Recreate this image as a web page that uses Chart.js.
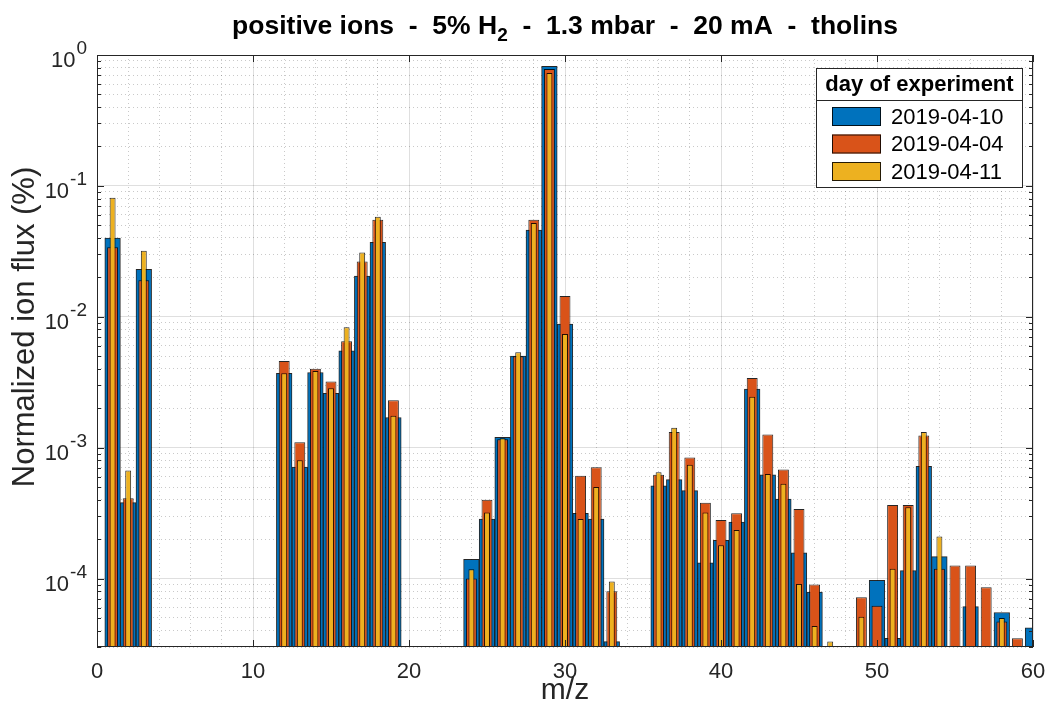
<!DOCTYPE html>
<html>
<head>
<meta charset="utf-8">
<title>positive ions - 5% H2 - 1.3 mbar - 20 mA - tholins</title>
<script src="https://cdn.jsdelivr.net/npm/chart.js@4.4.1/dist/chart.umd.min.js"></script>
<style>
html,body{margin:0;padding:0;background:#ffffff;}
canvas{display:block;}
</style>
</head>
<body>
<canvas id="chart" width="1047" height="716"></canvas>
<script>
// ---------------- data ----------------
const mz = [1, 2, 3, 12, 13, 14, 15, 16, 17, 18, 19,
            24, 25, 26, 27, 28, 29, 30, 31, 32, 33,
            36, 37, 38, 39, 40, 41, 42, 43, 44, 45, 46, 47,
            49, 50, 51, 52, 53, 54, 55, 56, 57, 58, 59, 60];

const seriesLabels = ['2019-04-10', '2019-04-04', '2019-04-11'];

const flux_20190410 = [0.040, 3.8e-4, 0.023, 3.7e-3, 7.1e-4, 3.75e-3, 2.6e-3, 5.5e-3, 0.0205, 0.037, 1.7e-3,
                       1.4e-4, 2.85e-4, 1.2e-3, 5.0e-3, 0.046, 0.82, 8.8e-3, 3.15e-4, 2.85e-4, 3.3e-5,
                       5.1e-4, 5.7e-4, 4.7e-4, 1.32e-4, 1.96e-4, 2.7e-4, 2.8e-3, 6.2e-4, 4.05e-4, 1.57e-4, 7.9e-5, null,
                       null, 9.7e-5, 3.5e-5, 1.15e-4, 7.2e-4, 1.47e-4, null, 6.1e-5, null, 5.5e-5, null, 4.2e-5];

const flux_20190404 = [0.034, 4.1e-4, 0.019, 4.6e-3, 1.1e-3, 4.0e-3, 3.2e-3, 6.5e-3, 0.0265, 0.055, 2.3e-3,
                       1.0e-4, 4.0e-4, 1.16e-3, 5.0e-3, 0.055, 0.78, 0.0144, 6.1e-4, 7.1e-4, 8.0e-5,
                       6.2e-4, 1.32e-3, 8.4e-4, 3.8e-4, 2.8e-4, 3.15e-4, 3.4e-3, 1.26e-3, 6.8e-4, 3.4e-4, 9.0e-5, null,
                       7.2e-5, 6.2e-5, 3.65e-4, 3.65e-4, 1.24e-3, 1.19e-4, 1.26e-4, 1.26e-4, 8.6e-5, 4.7e-5, 3.5e-5, null];

const flux_20190411 = [0.081, 6.7e-4, 0.032, 3.7e-3, 8.0e-4, 3.85e-3, 2.85e-3, 8.3e-3, 0.031, 0.058, 1.75e-3,
                       1.18e-4, 3.2e-4, 1.18e-3, 5.35e-3, 0.052, 0.73, 7.4e-3, 2.85e-4, 5.0e-4, 9.5e-5,
                       6.5e-4, 1.42e-3, 7.4e-4, 3.2e-4, 1.8e-4, 2.35e-4, 2.45e-3, 6.3e-4, 5.3e-4, 9.1e-5, 4.35e-5, 3.3e-5,
                       5.1e-5, null, 1.19e-4, 3.5e-4, 1.32e-3, 2.1e-4, null, null, null, 5.0e-5, null, null];

const xTickValues = [0, 10, 20, 30, 40, 50, 60];
const yDecadeTicks = [1e-4, 1e-3, 1e-2, 1e-1, 1];
const titleParts = ['positive ions  -  5% H', '2', '  -  1.3 mbar  -  20 mA  -  tholins'];
const legendTitle = 'day of experiment';
const xAxisTitle = 'm/z';
const yAxisTitle = 'Normalized ion flux (%)';

// ---------------- styling ----------------
const FONT = '"Liberation Sans", Arial, Helvetica, sans-serif';
const INK = '#262626';
const colors = ['#0072BD', '#D95319', '#EDB120'];
const barWidths = [1.0, 0.7, 0.38];
const yMin = 3e-5, yMax = 1;

const yMinorTicks = [];
for (let e = -5; e <= -1; e++) {
  for (let k = 2; k <= 9; k++) {
    const v = Number((k * Math.pow(10, e)).toPrecision(3));
    if (v >= yMin && v <= yMax) yMinorTicks.push(v);
  }
}
const xMinorTicks = [];
for (let v = 2; v < 60; v += 2) if (v % 10 !== 0) xMinorTicks.push(v);

function makeDataset(i, vals) {
  return {
    label: seriesLabels[i],
    data: mz.map((m, j) => ({x: m, y: vals[j]})),
    backgroundColor: colors[i],
    borderColor: 'rgba(0,0,0,0.85)',
    borderWidth: 1,
    borderSkipped: false,
    grouped: false,
    barPercentage: barWidths[i],
    categoryPercentage: 1,
    order: 3 - i,
    xAxisID: 'x',
    yAxisID: 'y'
  };
}

function noPad(s) {
  s.paddingLeft = 0; s.paddingRight = 0; s.paddingTop = 0; s.paddingBottom = 0;
}

// ---------------- MATLAB-look decorations ----------------
const matlabLook = {
  id: 'matlabLook',
  beforeDraw(chart) {
    const ctx = chart.ctx;
    ctx.save();
    ctx.fillStyle = '#ffffff';
    ctx.fillRect(0, 0, chart.width, chart.height);
    ctx.restore();
  },
  afterDraw(chart) {
    const {ctx, chartArea: a} = chart;
    const xs = chart.scales.x, ys = chart.scales.y;
    ctx.save();

    // axes box
    ctx.strokeStyle = INK;
    ctx.lineWidth = 1;
    ctx.strokeRect(Math.round(a.left) + 0.5, Math.round(a.top) + 0.5,
                   Math.round(a.right - a.left) - 1, Math.round(a.bottom - a.top) - 1);

    // inner tick marks
    ctx.beginPath();
    yDecadeTicks.forEach(v => {
      const p = Math.round(ys.getPixelForValue(v)) + 0.5;
      ctx.moveTo(a.left, p); ctx.lineTo(a.left + 7, p);
      ctx.moveTo(a.right, p); ctx.lineTo(a.right - 7, p);
    });
    yMinorTicks.forEach(v => {
      const p = Math.round(ys.getPixelForValue(v)) + 0.5;
      ctx.moveTo(a.left, p); ctx.lineTo(a.left + 4, p);
      ctx.moveTo(a.right, p); ctx.lineTo(a.right - 4, p);
    });
    xTickValues.forEach(v => {
      const p = Math.round(xs.getPixelForValue(v)) + 0.5;
      ctx.moveTo(p, a.bottom); ctx.lineTo(p, a.bottom - 7);
      ctx.moveTo(p, a.top); ctx.lineTo(p, a.top + 7);
    });
    ctx.stroke();

    // y tick labels 10^n
    ctx.fillStyle = INK;
    ctx.textBaseline = 'middle';
    ctx.textAlign = 'left';
    yDecadeTicks.forEach(v => {
      const p = ys.getPixelForValue(v);
      const e = String(Math.round(Math.log10(v)));
      ctx.font = '19px ' + FONT;
      const we = ctx.measureText(e).width;
      ctx.font = '22px ' + FONT;
      const wb = ctx.measureText('10').width;
      const right = 87;
      ctx.fillText('10', right - we - wb - 1, p + 6);
      ctx.font = '19px ' + FONT;
      ctx.fillText(e, right - we, p - 6);
    });

    // y axis label
    ctx.save();
    ctx.translate(25, 327);
    ctx.rotate(-Math.PI / 2);
    ctx.textAlign = 'center';
    ctx.textBaseline = 'middle';
    ctx.font = '31px ' + FONT;
    ctx.fillStyle = INK;
    ctx.fillText(yAxisTitle, 0, 0);
    ctx.restore();

    // title with subscript
    ctx.textAlign = 'left';
    ctx.textBaseline = 'alphabetic';
    const big = 'bold 26.5px ' + FONT, small = 'bold 19px ' + FONT;
    ctx.font = big;
    const w0 = ctx.measureText(titleParts[0]).width;
    const w2 = ctx.measureText(titleParts[2]).width;
    ctx.font = small;
    const w1 = ctx.measureText(titleParts[1]).width;
    const total = w0 + w1 + w2;
    let tx = (a.left + a.right) / 2 - total / 2;
    const tb = 34;
    ctx.fillStyle = '#000000';
    ctx.font = big; ctx.fillText(titleParts[0], tx, tb); tx += w0;
    ctx.font = small; ctx.fillText(titleParts[1], tx, tb + 7); tx += w1;
    ctx.font = big; ctx.fillText(titleParts[2], tx, tb);

    // legend box
    const L = {x: 816, y: 68, w: 206, h: 119, sep: 100};
    ctx.fillStyle = '#ffffff';
    ctx.fillRect(L.x, L.y, L.w, L.h);
    ctx.strokeStyle = INK;
    ctx.lineWidth = 1;
    ctx.strokeRect(L.x + 0.5, L.y + 0.5, L.w, L.h);
    ctx.beginPath();
    ctx.moveTo(L.x, L.sep + 0.5); ctx.lineTo(L.x + L.w, L.sep + 0.5);
    ctx.stroke();
    ctx.fillStyle = '#000000';
    ctx.font = 'bold 22px ' + FONT;
    ctx.textAlign = 'center';
    ctx.textBaseline = 'middle';
    ctx.fillText(legendTitle, L.x + L.w / 2 + 0.5, 85);
    ctx.textAlign = 'left';
    ctx.font = '22px ' + FONT;
    const rowY = [116.5, 144, 171.5];
    chart.data.datasets.forEach((ds, i) => {
      const cy = rowY[i];
      ctx.fillStyle = ds.backgroundColor;
      ctx.fillRect(832, cy - 9.5, 49, 19);
      ctx.strokeStyle = 'rgba(0,0,0,0.85)';
      ctx.strokeRect(832.5, cy - 9, 48, 18);
      ctx.fillStyle = '#000000';
      ctx.fillText(ds.label, 891, cy + 1);
    });

    ctx.restore();
  }
};

new Chart(document.getElementById('chart'), {
  type: 'bar',
  data: {
    datasets: [
      makeDataset(0, flux_20190410),
      makeDataset(1, flux_20190404),
      makeDataset(2, flux_20190411)
    ]
  },
  options: {
    responsive: false,
    devicePixelRatio: 1,
    animation: false,
    layout: {padding: {top: 55, right: 14, bottom: 0, left: 0}},
    plugins: {
      legend: {display: false},
      title: {display: false},
      tooltip: {enabled: false}
    },
    scales: {
      x: {
        type: 'linear',
        position: 'bottom',
        min: 0, max: 60,
        offset: false,
        afterBuildTicks: s => { s.ticks = xTickValues.map(v => ({value: v})); },
        afterFit: s => { s.height = 69; noPad(s); },
        grid: {offset: false, color: 'rgba(38,38,38,0.15)', drawTicks: false},
        border: {display: false},
        ticks: {color: INK, font: {family: FONT, size: 22}, padding: 12, maxRotation: 0,
                callback: v => String(v)},
        title: {display: true, text: xAxisTitle, color: INK, font: {family: FONT, size: 30},
                padding: {top: 0, bottom: 7}}
      },
      xMinor: {
        type: 'linear',
        position: 'top',
        min: 0, max: 60,
        offset: false,
        afterBuildTicks: s => { s.ticks = xMinorTicks.map(v => ({value: v})); },
        afterFit: s => { s.height = 0; noPad(s); },
        grid: {offset: false, color: 'rgba(38,38,38,0.25)', drawTicks: false},
        border: {display: false, dash: [1, 3]},
        ticks: {display: false}
      },
      y: {
        type: 'logarithmic',
        position: 'left',
        min: yMin, max: yMax,
        beginAtZero: false,
        afterBuildTicks: s => { s.ticks = yDecadeTicks.map(v => ({value: v})); },
        afterFit: s => { s.width = 97; noPad(s); },
        grid: {color: 'rgba(38,38,38,0.15)', drawTicks: false},
        border: {display: false},
        ticks: {display: false}
      },
      yMinor: {
        type: 'logarithmic',
        position: 'right',
        min: yMin, max: yMax,
        afterBuildTicks: s => { s.ticks = yMinorTicks.map(v => ({value: v})); },
        afterFit: s => { s.width = 0; noPad(s); },
        grid: {color: 'rgba(38,38,38,0.25)', drawTicks: false},
        border: {display: false, dash: [1, 3]},
        ticks: {display: false}
      }
    }
  },
  plugins: [matlabLook]
});
</script>
</body>
</html>
